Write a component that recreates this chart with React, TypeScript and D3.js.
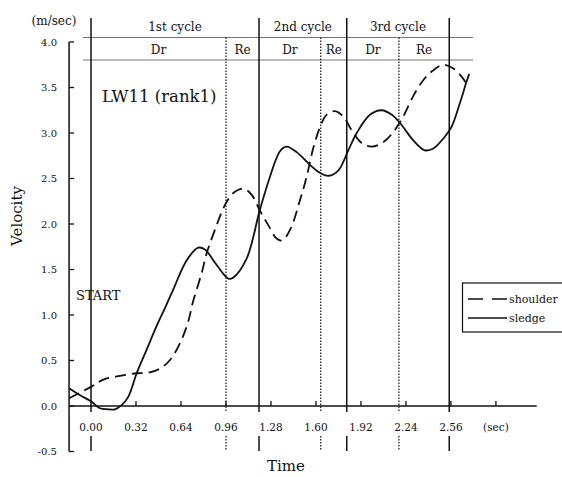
import React from "react";
import * as d3 from "d3";

// ---- data ----
const sledgeT = [-0.156, -0.08, 0.005, 0.064, 0.12, 0.17, 0.218, 0.265, 0.325, 0.396, 0.467, 0.53, 0.585, 0.68, 0.763, 0.81, 0.894, 0.977, 1.01, 1.107, 1.2, 1.273, 1.344, 1.39, 1.463, 1.557, 1.63, 1.69, 1.76, 1.83, 1.89, 1.984, 2.067, 2.14, 2.198, 2.292, 2.375, 2.435, 2.506, 2.565, 2.624, 2.67, 2.69];
const sledgeV = [0.194, 0.12, 0.047, -0.025, -0.036, -0.036, 0.01, 0.1, 0.36, 0.62, 0.88, 1.09, 1.28, 1.6, 1.74, 1.72, 1.55, 1.4, 1.41, 1.62, 2.15, 2.52, 2.8, 2.85, 2.79, 2.65, 2.56, 2.53, 2.59, 2.81, 3.0, 3.2, 3.25, 3.2, 3.11, 2.92, 2.81, 2.83, 2.94, 3.07, 3.33, 3.56, 3.65];
const shoulderT = [-0.156, 0, 0.088, 0.206, 0.325, 0.41, 0.49, 0.562, 0.633, 0.69, 0.728, 0.787, 0.823, 0.88, 0.953, 1.012, 1.083, 1.143, 1.2, 1.26, 1.32, 1.36, 1.42, 1.486, 1.534, 1.58, 1.63, 1.675, 1.735, 1.795, 1.854, 1.925, 1.996, 2.08, 2.15, 2.22, 2.29, 2.363, 2.435, 2.506, 2.577, 2.636, 2.683];
const shoulderV = [0.085, 0.21, 0.29, 0.33, 0.36, 0.366, 0.41, 0.505, 0.69, 0.92, 1.16, 1.46, 1.68, 1.93, 2.21, 2.34, 2.39, 2.32, 2.15, 1.99, 1.84, 1.82, 1.95, 2.26, 2.52, 2.83, 3.07, 3.2, 3.24, 3.18, 3.03, 2.89, 2.85, 2.9, 3.01, 3.18, 3.4, 3.58, 3.69, 3.75, 3.71, 3.62, 3.51];

const xTickValues = [0.32, 0.64, 0.96, 1.28, 1.6, 1.92, 2.24, 2.56, 2.88];
const xTickLabels = ["0.00", "0.32", "0.64", "0.96", "1.28", "1.60", "1.92", "2.24", "2.56"];
const yTickValues = [-0.5, 0, 0.5, 1, 1.5, 2, 2.5, 3, 3.5, 4];

// phase boundaries (s): cycle starts (solid) and drive/recovery splits (dotted)
const cycleBounds = [0, 1.195, 1.819, 2.548];
const driveEnds = [0.96, 1.634, 2.19];
const cycleNames = ["1st cycle", "2nd cycle", "3rd cycle"];

const FONT = "DejaVu Serif";

export default function App() {
  const x = d3.scaleLinear().domain([0, 2.88]).range([91, 91 + 2.88 * 140.6]);
  const y = d3.scaleLinear().domain([-0.5, 4]).range([451.5, 42]);
  const xAxisStart = x(-0.156);
  const xAxisEnd = x(3.17);
  const y0 = y(0);

  const line = d3
    .line<[number, number]>()
    .x((d) => x(d[0]))
    .y((d) => y(d[1]))
    .curve(d3.curveCatmullRom.alpha(0.5));

  const sledge = sledgeT.map((t, i) => [t, sledgeV[i]] as [number, number]);
  const shoulder = shoulderT.map((t, i) => [t, shoulderV[i]] as [number, number]);

  const topLine1 = 37.5;
  const topLine2 = 60;
  const ink = "#111";

  return (
    <svg width={562} height={477} style={{ position: "absolute", left: 0, top: 0, background: "#fff" }}>
      <rect x={0} y={0} width={562} height={477} fill="#fff" />
      {/* header horizontal lines */}
      <line x1={83} x2={473} y1={topLine1} y2={topLine1} stroke="#777" strokeWidth={1} />
      <line x1={83} x2={473} y1={topLine2} y2={topLine2} stroke="#777" strokeWidth={1} />

      {/* solid cycle lines */}
      {cycleBounds.map((t, i) => (
        <g key={"c" + i}>
          <line x1={x(t)} x2={x(t)} y1={18} y2={412} stroke={ink} strokeWidth={1.5} />
          <line x1={x(t)} x2={x(t)} y1={436} y2={451} stroke={ink} strokeWidth={1.5} />
        </g>
      ))}
      {/* dotted drive/recovery lines */}
      {driveEnds.map((t, i) => (
        <g key={"d" + i}>
          <line x1={x(t)} x2={x(t)} y1={topLine1} y2={412} stroke={ink} strokeWidth={1.2} strokeDasharray="1.5,1.5" />
          <line x1={x(t)} x2={x(t)} y1={436} y2={451} stroke={ink} strokeWidth={1.2} strokeDasharray="1.5,1.5" />
        </g>
      ))}

      {/* cycle labels */}
      {cycleNames.map((n, i) => (
        <text key={n} x={(x(cycleBounds[i]) + x(cycleBounds[i + 1])) / 2} y={31} textAnchor="middle" fontFamily={FONT} fontSize={12} fill={ink}>
          {n}
        </text>
      ))}
      {driveEnds.map((t, i) => (
        <g key={"dr" + i}>
          <text x={(x(cycleBounds[i]) + x(t)) / 2} y={54} textAnchor="middle" fontFamily={FONT} fontSize={12} fill={ink}>
            Dr
          </text>
          <text x={(x(t) + x(cycleBounds[i + 1])) / 2} y={54} textAnchor="middle" fontFamily={FONT} fontSize={12} fill={ink}>
            Re
          </text>
        </g>
      ))}

      {/* y axis */}
      <line x1={xAxisStart} x2={xAxisStart} y1={y(4)} y2={y(-0.5)} stroke={ink} strokeWidth={1.5} />
      {yTickValues.map((v) => (
        <g key={"y" + v}>
          <line x1={xAxisStart} x2={xAxisStart + 5} y1={y(v)} y2={y(v)} stroke={ink} strokeWidth={1.3} />
          <text x={57} y={y(v)} dy="0.35em" textAnchor="end" fontFamily={FONT} fontSize={10} fill={ink}>
            {v.toFixed(1)}
          </text>
        </g>
      ))}
      <text x={54} y={25} textAnchor="middle" fontFamily={FONT} fontSize={12} fill={ink}>
        (m/sec)
      </text>
      <text transform={`translate(22,216) rotate(-90)`} textAnchor="middle" fontFamily={FONT} fontSize={15} fill={ink}>
        Velocity
      </text>

      {/* x axis */}
      <line x1={xAxisStart} x2={xAxisEnd} y1={y0} y2={y0} stroke={ink} strokeWidth={1.5} />
      {xTickValues.map((t) => (
        <line key={"xt" + t} x1={x(t)} x2={x(t)} y1={y0} y2={y0 - 5} stroke={ink} strokeWidth={1.3} />
      ))}
      {xTickLabels.map((l) => (
        <text key={"xl" + l} x={x(+l)} y={431} textAnchor="middle" fontFamily={FONT} fontSize={10.5} fill={ink}>
          {l}
        </text>
      ))}
      <text x={x(2.88)} y={431} textAnchor="middle" fontFamily={FONT} fontSize={10.5} fill={ink}>
        (sec)
      </text>
      <text x={286} y={471} textAnchor="middle" fontFamily={FONT} fontSize={15} fill={ink}>
        Time
      </text>

      {/* annotations */}
      <text x={102} y={101.5} fontFamily={FONT} fontSize={16.5} fill={ink}>
        LW11 (rank1)
      </text>
      <text x={76} y={300} fontFamily={FONT} fontSize={13} fill={ink}>
        START
      </text>

      {/* curves */}
      <path d={line(shoulder) || ""} fill="none" stroke={ink} strokeWidth={1.8} strokeDasharray="11,6" />
      <path d={line(sledge) || ""} fill="none" stroke={ink} strokeWidth={1.8} />

      {/* legend */}
      <rect x={462.5} y={283} width={110} height={49} fill="#fff" stroke={ink} strokeWidth={1.2} />
      <line x1={468} x2={507} y1={299} y2={299} stroke={ink} strokeWidth={1.5} strokeDasharray="15,9" />
      <text x={509} y={303} fontFamily={FONT} fontSize={11} fill={ink}>
        shoulder
      </text>
      <line x1={468} x2={507} y1={318} y2={318} stroke={ink} strokeWidth={1.5} />
      <text x={509} y={322} fontFamily={FONT} fontSize={11} fill={ink}>
        sledge
      </text>
    </svg>
  );
}
